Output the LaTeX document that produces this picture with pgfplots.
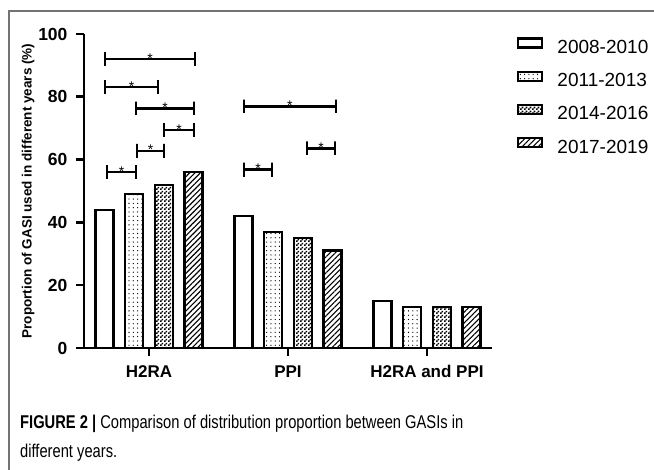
\documentclass[border=0pt]{standalone}
\usepackage{fontspec}
\setmainfont{Liberation Sans}
\newfontfamily\capfont[FakeStretch=0.795]{Liberation Sans}
\usepackage{pgfplots}
\pgfplotsset{compat=1.18}
\usetikzlibrary{patterns,patterns.meta}
\pgfdeclarepatternformonly{checker}{\pgfpointorigin}{\pgfqpoint{4pt}{4pt}}{\pgfqpoint{4pt}{4pt}}{%
  \pgfpathrectangle{\pgfpointorigin}{\pgfqpoint{2pt}{2pt}}%
  \pgfpathrectangle{\pgfqpoint{2pt}{2pt}}{\pgfqpoint{2pt}{2pt}}%
  \pgfusepath{fill}}
\begin{document}
\begin{tikzpicture}[x=1pt,y=1pt]
\path[use as bounding box] (0,0) rectangle (654,-470);
\draw[black!55, line width=1.3pt] (9,-471) -- (9,-11) -- (655,-11);
\begin{axis}[
  at={(84pt,-348pt)}, anchor=south west,
  scale only axis, width=408pt, height=314pt,
  xmin=-0.468, xmax=2.468, ymin=0, ymax=100,
  axis lines=left, axis line style={-, line width=2.8pt},
  ybar, bar width=0.13,
  xtick={0,1,2}, xticklabels={H2RA,PPI,H2RA and PPI},
  ytick={0,20,40,60,80,100},
  tick align=outside, major tick length=8pt,
  tick style={line width=2.6pt, black},
  /pgf/number format/assume math mode=true,
  yticklabel style={font=\bfseries\fontsize{17.5}{17.5}\selectfont, xshift=-5pt},
  xticklabel style={font=\bfseries\fontsize{17}{17}\selectfont, yshift=-6pt},
  ylabel={Proportion of GASI used in different years (\%)},
  ylabel style={font=\bfseries\fontsize{13.5}{13.5}\selectfont, at={(axis description cs:-0.137,0.5)}, anchor=center},
  legend style={draw=none, fill=none, at={(axis description cs:1.061,0.99)}, anchor=north west,
    font=\fontsize{19}{19}\selectfont, inner sep=0pt, column sep=14pt, row sep=17pt,
    nodes={inner sep=0pt, text height=14pt, text depth=0pt}},
  legend cell align=left,
  legend image code/.code={\draw[#1, line width=2.4pt] (0pt,-1pt) rectangle (24pt,8pt);},
]
\addplot[draw=black, line width=2.4pt, fill=white, bar shift=-0.32] coordinates {(0,44) (1,42) (2,15)};
\addplot[draw=black, line width=2.4pt, pattern={Dots[distance=4.3pt, radius=0.65pt]}, bar shift=-0.107] coordinates {(0,49) (1,37) (2,13)};
\addplot[draw=black, line width=2.4pt, pattern=checker, bar shift=0.107] coordinates {(0,52) (1,35) (2,13)};
\addplot[draw=black, line width=2.4pt, pattern={Lines[angle=45, distance=3.8pt, line width=1.1pt]}, bar shift=0.32] coordinates {(0,56) (1,31) (2,13)};
\legend{2008-2010,2011-2013,2014-2016,2017-2019}
% significance brackets
\addplot[sharp plot, forget plot, black, line width=2.5pt, line join=bevel] coordinates {(-0.317,89.8) (-0.317,94.2) (-0.317,92) (0.331,92) (0.331,94.2) (0.331,89.8)};
\addplot[sharp plot, forget plot, black, line width=2.5pt, line join=bevel] coordinates {(-0.317,80.9) (-0.317,85.3) (-0.317,83.1) (0.065,83.1) (0.065,85.3) (0.065,80.9)};
\addplot[sharp plot, forget plot, black, line width=2.5pt, line join=bevel] coordinates {(-0.094,74.1) (-0.094,78.5) (-0.094,76.3) (0.324,76.3) (0.324,78.5) (0.324,74.1)};
\addplot[sharp plot, forget plot, black, line width=2.5pt, line join=bevel] coordinates {(0.108,67.2) (0.108,71.6) (0.108,69.4) (0.324,69.4) (0.324,71.6) (0.324,67.2)};
\addplot[sharp plot, forget plot, black, line width=2.5pt, line join=bevel] coordinates {(-0.086,60.6) (-0.086,65) (-0.086,62.8) (0.108,62.8) (0.108,65) (0.108,60.6)};
\addplot[sharp plot, forget plot, black, line width=2.5pt, line join=bevel] coordinates {(-0.302,53.8) (-0.302,58.2) (-0.302,56) (-0.094,56) (-0.094,58.2) (-0.094,53.8)};
\addplot[sharp plot, forget plot, black, line width=2.5pt, line join=bevel] coordinates {(0.683,74.7) (0.683,79.1) (0.683,76.9) (1.345,76.9) (1.345,79.1) (1.345,74.7)};
\addplot[sharp plot, forget plot, black, line width=2.5pt, line join=bevel] coordinates {(1.137,61.4) (1.137,65.8) (1.137,63.6) (1.338,63.6) (1.338,65.8) (1.338,61.4)};
\addplot[sharp plot, forget plot, black, line width=2.5pt, line join=bevel] coordinates {(0.683,54.6) (0.683,59) (0.683,56.8) (0.885,56.8) (0.885,59) (0.885,54.6)};
\begin{scope}[every node/.style={font=\fontsize{14}{14}\selectfont, anchor=base, inner sep=0pt}]
\node at (axis cs:0.007,90.7) {*};
\node at (axis cs:-0.126,81.8) {*};
\node at (axis cs:0.115,75.0) {*};
\node at (axis cs:0.216,68.1) {*};
\node at (axis cs:0.011,61.5) {*};
\node at (axis cs:-0.198,54.7) {*};
\node at (axis cs:1.014,75.6) {*};
\node at (axis cs:1.238,62.3) {*};
\node at (axis cs:0.784,55.5) {*};
\end{scope}
\end{axis}
\node[anchor=base west, inner sep=0pt, font=\capfont\fontsize{18.5}{18.5}\selectfont] at (20,-429) {\textbf{FIGURE 2 |} Comparison of distribution proportion between GASIs in};
\node[anchor=base west, inner sep=0pt, font=\capfont\fontsize{18.5}{18.5}\selectfont] at (20,-458) {different years.};
\end{tikzpicture}
\end{document}
